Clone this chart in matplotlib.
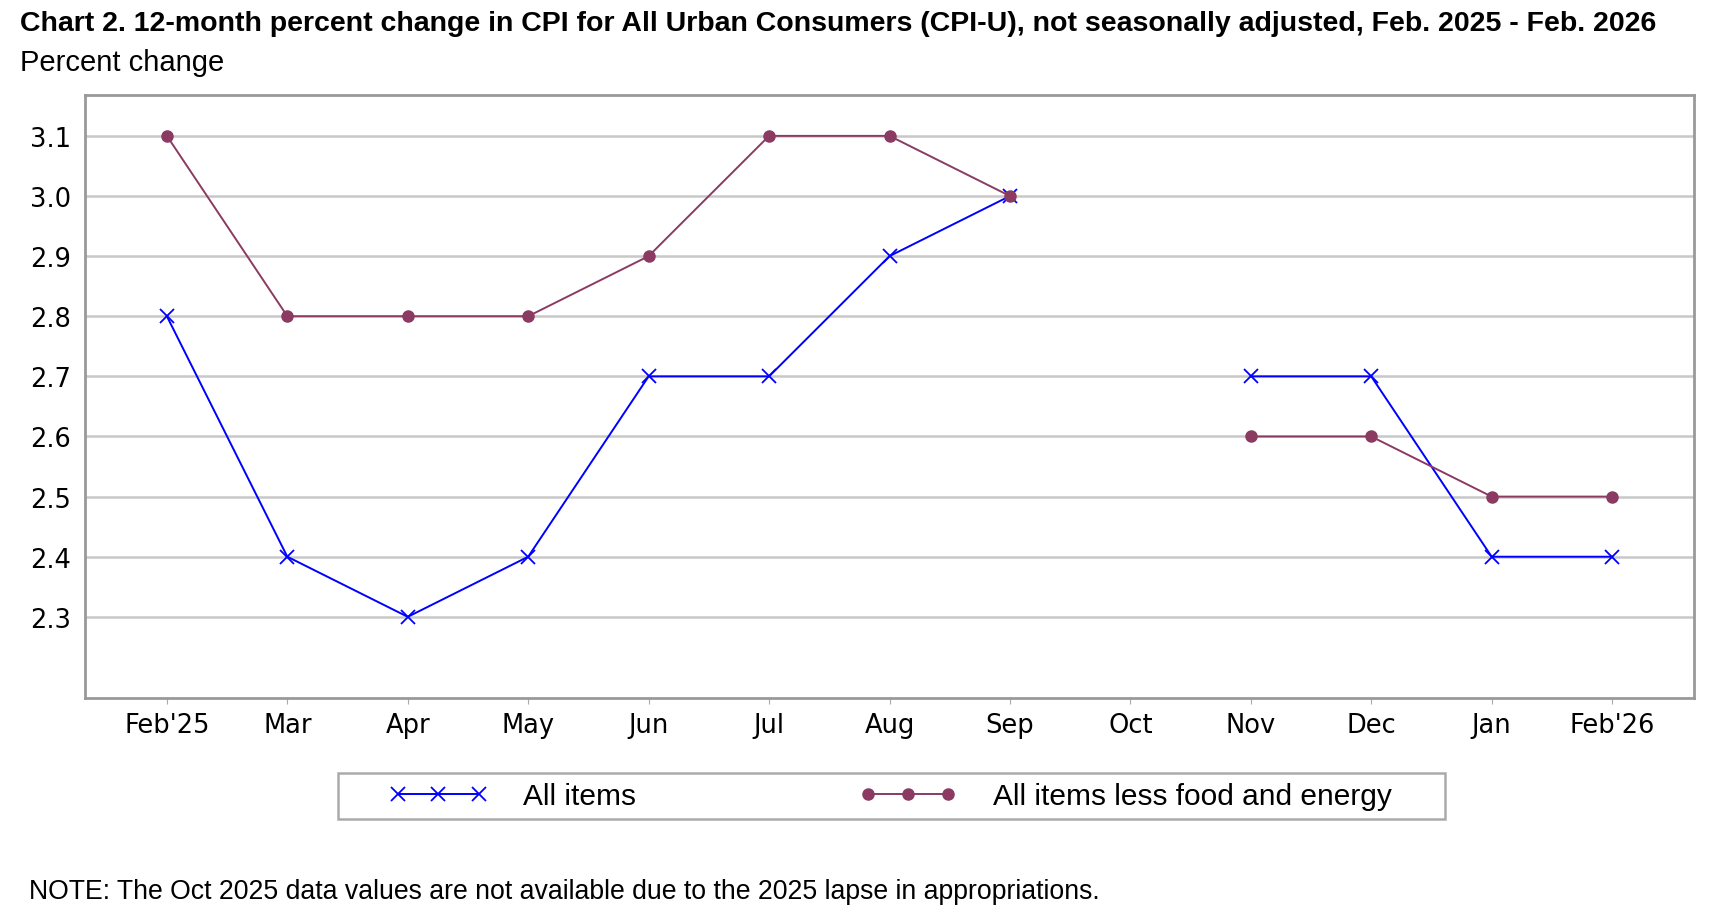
import numpy as np
import matplotlib
matplotlib.use('Agg')
from matplotlib import pyplot as plt
from matplotlib.patches import Rectangle

plt.rcParams['font.family'] = ['DejaVu Sans']

months = ['Feb\'25', 'Mar', 'Apr', 'May', 'Jun', 'Jul', 'Aug', 'Sep',
          'Oct', 'Nov', 'Dec', 'Jan', 'Feb\'26']
all_items = [2.8, 2.4, 2.3, 2.4, 2.7, 2.7, 2.9, 3.0, np.nan, 2.7, 2.7, 2.4, 2.4]
core = [3.1, 2.8, 2.8, 2.8, 2.9, 3.1, 3.1, 3.0, np.nan, 2.6, 2.6, 2.5, 2.5]
yticks = [2.3, 2.4, 2.5, 2.6, 2.7, 2.8, 2.9, 3.0, 3.1]

narrow = ['Liberation Sans Narrow', 'Arial Narrow', 'Liberation Sans', 'DejaVu Sans']
W, H = 1714, 920

fig = plt.figure(figsize=(W / 100, H / 100), dpi=100)
ax = fig.add_axes([85 / W, 1 - 699 / H, (1694 - 85) / W, (699 - 96) / H])

x = np.arange(len(months))
ax.plot(x, all_items, color='#0000ff', lw=1.4, marker='x', ms=10, mew=1.3,
        label='All items', zorder=3)
ax.plot(x, core, color='#8b3a62', lw=1.4, marker='o', ms=8,
        label='All items less food and energy', zorder=3)

ax.set_xlim(-0.68, 12.68)
ax.set_ylim(2.165, 3.168)
ax.set_xticks(x)
ax.set_xticklabels(months, fontsize=18.5)
ax.set_yticks(yticks)
ax.set_yticklabels(['%.1f' % v for v in yticks], fontsize=18.5)
ax.tick_params(axis='x', length=4, color='#aaaaaa', pad=6)
ax.tick_params(axis='y', length=0, pad=10)
ax.yaxis.grid(True, color='#c8c8c8', lw=1.8)
ax.set_axisbelow(True)
for s in ax.spines.values():
    s.set_color('#999999')
    s.set_linewidth(2)

fig.text(20 / W, 1 - 24 / H,
         'Chart 2. 12-month percent change in CPI for All Urban Consumers (CPI-U), '
         'not seasonally adjusted, Feb. 2025 - Feb. 2026',
         family=narrow, fontweight='bold', fontsize=20.5, va='center')
fig.text(20 / W, 1 - 63 / H, 'Percent change', family=narrow, fontsize=21,
         va='center')

# legend box drawn separately so the inner padding can be wider than tall
fig.patches.append(Rectangle((338 / W, 1 - 820 / H), (1445 - 338) / W, 46 / H,
                             transform=fig.transFigure, fill=False,
                             edgecolor='#aaaaaa', lw=1.8))
leg = fig.legend(loc='center', ncol=2, numpoints=3, handlelength=3.3,
                 bbox_to_anchor=(389 / W, 1 - 820 / H, (1392 - 389) / W, 46 / H),
                 mode='expand', frameon=False,
                 prop={'family': narrow, 'size': 21.5}, borderaxespad=0,
                 borderpad=0, handletextpad=1.2)

fig.text(29 / W, 1 - 892 / H,
         'NOTE: The Oct 2025 data values are not available due to the 2025 lapse in appropriations.',
         family=narrow, fontsize=19.2, va='center')

fig.savefig('out.png', dpi=100)
